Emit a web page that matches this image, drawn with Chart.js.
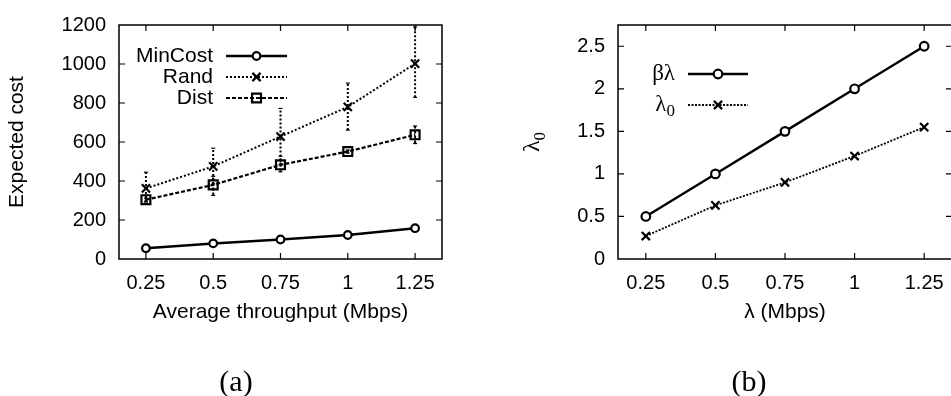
<!DOCTYPE html>
<html>
<head>
<meta charset="utf-8">
<script src="https://cdn.jsdelivr.net/npm/chart.js@4/dist/chart.umd.min.js"></script>
<style>
  html, body { margin: 0; padding: 0; background: #fff; overflow: hidden; width: 951px; height: 396px; }
  #wrap { position: relative; width: 951px; height: 396px; overflow: hidden; }
  canvas { position: absolute; top: 0; }
  #ca { left: 0; }
  #cb { left: 470px; }
  .cap { position: absolute; top: 364px; width: 120px; text-align: center;
         font-family: 'Liberation Serif', 'DejaVu Serif', serif; font-size: 30px; line-height: 34px; color: #000; }
</style>
</head>
<body>
<div id="wrap">
  <canvas id="ca" width="470" height="396"></canvas>
  <canvas id="cb" width="490" height="396"></canvas>
  <div class="cap" style="left:176px">(a)</div>
  <div class="cap" style="left:689px">(b)</div>
</div>
<script>
// ---- Panel (a): expected cost against average throughput ----
const throughput = [0.25, 0.5, 0.75, 1, 1.25];
const throughputLabels = ['0.25', '0.5', '0.75', '1', '1.25'];
const minCost = [55, 80, 100, 123, 158];
const rand = [362, 475, 628, 780, 1002];
const randLow = [292, 385, 484, 661, 829];
const randHigh = [445, 568, 772, 902, 1190];
const dist = [304, 380, 483, 551, 637];
const distLow = [296, 326, 447, 543, 592];
const distHigh = [312, 424, 527, 559, 682];
const costTicks = [0, 200, 400, 600, 800, 1000, 1200];

// ---- Panel (b): lambda_0 against lambda ----
const lambda = [0.25, 0.5, 0.75, 1, 1.25];
const lambdaLabels = ['0.25', '0.5', '0.75', '1', '1.25'];
const betaLambda = [0.5, 1, 1.5, 2, 2.5];
const lambda0 = [0.27, 0.63, 0.9, 1.21, 1.55];
const lambda0Ticks = [0, 0.5, 1, 1.5, 2, 2.5];
const lambda0Labels = ['0', '0.5', '1', '1.5', '2', '2.5'];

const SANS = "'Liberation Sans', Arial, sans-serif";
const SERIF = "'Liberation Serif', 'DejaVu Serif', serif";
Chart.defaults.font.family = SANS;
Chart.defaults.font.size = 20;
Chart.defaults.color = '#000';

const pts = (xs, ys) => xs.map((x, i) => ({ x, y: ys[i] }));
// vertical bars from low to high, broken by null points between categories
const errPts = (xs, lo, hi) => xs.flatMap((x, i) => [{ x, y: lo[i] }, { x, y: hi[i] }, { x, y: null }]);

function drawMarker(ctx, style, r, x, y) {
  ctx.beginPath();
  if (style === 'circle') {
    ctx.arc(x, y, r, 0, Math.PI * 2);
    ctx.fill();
  } else if (style === 'crossRot') {
    const d = r * Math.SQRT1_2;
    ctx.moveTo(x - d, y - d); ctx.lineTo(x + d, y + d);
    ctx.moveTo(x + d, y - d); ctx.lineTo(x - d, y + d);
  } else if (style === 'rect') {
    const s = r * Math.SQRT1_2;
    ctx.rect(x - s, y - s, 2 * s, 2 * s);
  }
  ctx.stroke();
}

function drawSubText(ctx, base, sub, x, y, size, align) {
  ctx.font = size + 'px ' + SERIF;
  const wb = ctx.measureText(base).width;
  ctx.font = Math.round(size * 0.72) + 'px ' + SERIF;
  const ws = sub ? ctx.measureText(sub).width : 0;
  const total = wb + ws;
  let x0 = align === 'right' ? x - total : align === 'center' ? x - total / 2 : x;
  ctx.textAlign = 'left';
  ctx.textBaseline = 'middle';
  ctx.font = size + 'px ' + SERIF;
  ctx.fillText(base, x0, y);
  if (sub) {
    ctx.font = Math.round(size * 0.72) + 'px ' + SERIF;
    ctx.fillText(sub, x0 + wb, y + size * 0.3);
  }
}

// Box around the plot area with inward ticks on all four sides
const framePlugin = {
  id: 'frame',
  afterDraw(chart, args, opts) {
    const { ctx, chartArea: a, scales: { x, y } } = chart;
    const len = opts.tickLength || 6;
    ctx.save();
    ctx.strokeStyle = '#000';
    ctx.lineWidth = 1.5;
    ctx.strokeRect(a.left, a.top, a.right - a.left, a.bottom - a.top);
    ctx.lineWidth = 1.2;
    ctx.beginPath();
    x.ticks.forEach(t => {
      const px = x.getPixelForValue(t.value);
      ctx.moveTo(px, a.bottom); ctx.lineTo(px, a.bottom - len);
      ctx.moveTo(px, a.top); ctx.lineTo(px, a.top + len);
    });
    y.ticks.forEach(t => {
      const py = y.getPixelForValue(t.value);
      if (Math.abs(py - a.bottom) < 1 || Math.abs(py - a.top) < 1) return;
      ctx.moveTo(a.left, py); ctx.lineTo(a.left + len, py);
      ctx.moveTo(a.right, py); ctx.lineTo(a.right - len, py);
    });
    ctx.stroke();
    ctx.restore();
  }
};

// Key drawn inside the plot: right-aligned label, then sample line with marker
const keyPlugin = {
  id: 'key',
  afterDraw(chart, args, opts) {
    const { ctx, chartArea: a } = chart;
    ctx.save();
    opts.items.forEach((it, k) => {
      const ds = chart.data.datasets[it.dataset];
      const yy = a.top + opts.rows[k];
      const tx = a.left + opts.textRight;
      ctx.fillStyle = '#000';
      if (opts.serif) {
        drawSubText(ctx, it.text, it.sub, tx, yy, opts.size, 'right');
      } else {
        ctx.font = opts.size + 'px ' + SANS;
        ctx.textAlign = 'right';
        ctx.textBaseline = 'middle';
        ctx.fillText(it.text, tx, yy);
      }
      const x0 = a.left + opts.sample[0], x1 = a.left + opts.sample[1];
      ctx.strokeStyle = ds.borderColor;
      ctx.lineWidth = ds.borderWidth;
      ctx.setLineDash(ds.borderDash || []);
      ctx.beginPath(); ctx.moveTo(x0, yy); ctx.lineTo(x1, yy); ctx.stroke();
      ctx.setLineDash([]);
      ctx.lineWidth = ds.pointBorderWidth;
      ctx.fillStyle = ds.pointBackgroundColor;
      drawMarker(ctx, ds.pointStyle, ds.pointRadius, (x0 + x1) / 2, yy);
    });
    ctx.restore();
  }
};

// Rotated y-axis title with a subscript
const yTitlePlugin = {
  id: 'ytitle',
  afterDraw(chart, args, opts) {
    if (!opts.text) return;
    const { ctx, chartArea: a } = chart;
    ctx.save();
    ctx.translate(a.left - opts.offset, (a.top + a.bottom) / 2);
    ctx.rotate(-Math.PI / 2);
    ctx.fillStyle = '#000';
    drawSubText(ctx, opts.text, opts.sub, 0, 0, opts.size, 'center');
    ctx.restore();
  }
};

const tickFont = { size: 20, family: SANS };
const titleFont = { size: 21, family: SANS };

const lineDs = (data, style, dash, width, radius, fill) => ({
  data, borderColor: '#000', borderWidth: width, borderDash: dash, fill: false,
  pointStyle: style, pointRadius: radius, pointBorderWidth: 2.2,
  pointBorderColor: '#000', pointBackgroundColor: fill, tension: 0
});
const errDs = (data, dash) => ({
  data, borderColor: '#000', borderWidth: 2, borderDash: dash, fill: false, spanGaps: false,
  pointStyle: 'line', pointRadius: 2, pointBorderWidth: 1.2, pointBorderColor: '#000'
});

new Chart(document.getElementById('ca'), {
  type: 'line',
  data: {
    datasets: [
      lineDs(pts(throughput, minCost), 'circle', [], 2.5, 3.8, '#fff'),
      lineDs(pts(throughput, rand), 'crossRot', [2, 2], 2, 5.8, 'transparent'),
      lineDs(pts(throughput, dist), 'rect', [4, 2], 2.2, 6.3, 'transparent'),
      errDs(errPts(throughput, randLow, randHigh), [2, 2]),
      errDs(errPts(throughput, distLow, distHigh), [3, 2])
    ]
  },
  options: {
    responsive: false, animation: false, events: [],
    layout: { padding: { left: 0, top: 14, right: 28, bottom: 71 } },
    plugins: {
      legend: { display: false }, tooltip: { enabled: false },
      frame: { tickLength: 6 },
      key: {
        items: [{ text: 'MinCost', dataset: 0 }, { text: 'Rand', dataset: 1 }, { text: 'Dist', dataset: 2 }],
        rows: [31, 52, 73], textRight: 94, sample: [107, 168], size: 21, serif: false
      },
      ytitle: {}
    },
    scales: {
      x: {
        type: 'linear', min: 0.15, max: 1.35,
        afterBuildTicks: s => { s.ticks = throughput.map(v => ({ value: v })); },
        ticks: { callback: (v, i) => throughputLabels[i], padding: 12, font: tickFont, maxRotation: 0, autoSkip: false },
        grid: { display: false, drawTicks: false }, border: { display: false },
        title: { display: true, text: 'Average throughput (Mbps)', font: titleFont, padding: { top: 0, bottom: 0 } },
        afterFit: s => { s.height = 66; }
      },
      y: {
        type: 'linear', min: 0, max: 1200,
        afterBuildTicks: s => { s.ticks = costTicks.map(v => ({ value: v })); },
        ticks: { callback: v => String(v), padding: 13, font: tickFont, autoSkip: false },
        grid: { display: false, drawTicks: false }, border: { display: false },
        title: { display: true, text: 'Expected cost', font: titleFont, padding: { top: 5, bottom: 0 } },
        afterFit: s => { s.width = 119; }
      }
    }
  },
  plugins: [framePlugin, keyPlugin, yTitlePlugin]
});

new Chart(document.getElementById('cb'), {
  type: 'line',
  data: {
    datasets: [
      lineDs(pts(lambda, betaLambda), 'circle', [], 2.4, 4.3, '#fff'),
      lineDs(pts(lambda, lambda0), 'crossRot', [2, 1.5], 1.8, 5.8, 'transparent')
    ]
  },
  options: {
    responsive: false, animation: false, events: [],
    layout: { padding: { left: 0, top: 14, right: 6, bottom: 71 } },
    plugins: {
      legend: { display: false }, tooltip: { enabled: false },
      frame: { tickLength: 6 },
      key: {
        items: [{ text: 'βλ', dataset: 0 }, { text: 'λ', sub: '0', dataset: 1 }],
        rows: [49, 80], textRight: 57, sample: [70, 130], size: 23, serif: true
      },
      ytitle: { text: 'λ', sub: '0', offset: 85, size: 24 }
    },
    scales: {
      x: {
        type: 'linear', min: 0.15, max: 1.35,
        afterBuildTicks: s => { s.ticks = lambda.map(v => ({ value: v })); },
        ticks: { callback: (v, i) => lambdaLabels[i], padding: 12, font: tickFont, maxRotation: 0, autoSkip: false },
        grid: { display: false, drawTicks: false }, border: { display: false },
        title: { display: true, text: 'λ (Mbps)', font: titleFont, padding: { top: 0, bottom: 0 } },
        afterFit: s => { s.height = 66; }
      },
      y: {
        type: 'linear', min: 0, max: 2.75,
        afterBuildTicks: s => { s.ticks = lambda0Ticks.map(v => ({ value: v })); },
        ticks: { callback: (v, i) => lambda0Labels[i], padding: 13, font: tickFont, autoSkip: false },
        grid: { display: false, drawTicks: false }, border: { display: false },
        title: { display: false },
        afterFit: s => { s.width = 148; }
      }
    }
  },
  plugins: [framePlugin, keyPlugin, yTitlePlugin]
});
</script>
</body>
</html>
